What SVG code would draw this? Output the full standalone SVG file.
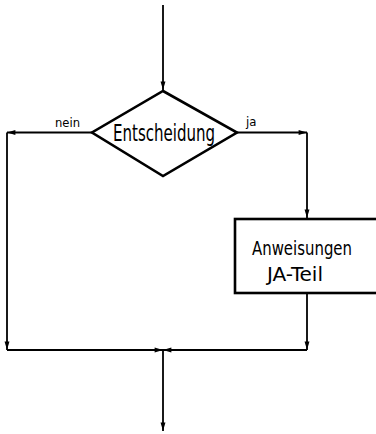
<svg xmlns="http://www.w3.org/2000/svg" width="376" height="434" viewBox="0 0 376 434">
<style>
.ln{fill:none;stroke:#000;stroke-width:1.8}
.shape{fill:#fff;stroke:#000;stroke-width:2.6}
.t{font-family:"DejaVu Sans Condensed","DejaVu Sans",sans-serif;fill:#000}
</style>
<defs>
<marker id="ah" viewBox="0 0 12 10" refX="12" refY="5" markerWidth="10" markerHeight="7" markerUnits="userSpaceOnUse" orient="auto">
<path d="M0,1.5 L12,5 L0,8.5 Z" fill="#000"/>
</marker>
</defs>
<g id="connectors">
<path class="ln" d="M163,5 V90" marker-end="url(#ah)"/>
<path class="ln" d="M92,132.5 H7" marker-end="url(#ah)"/>
<path class="ln" d="M237,132.5 H307" marker-end="url(#ah)"/>
<path class="ln" d="M307,132.5 V218" marker-end="url(#ah)"/>
<path class="ln" d="M7,132.5 V350" marker-end="url(#ah)"/>
<path class="ln" d="M307,293 V350" marker-end="url(#ah)"/>
<path class="ln" d="M7,350 H163" marker-end="url(#ah)"/>
<path class="ln" d="M307,350 H163" marker-end="url(#ah)"/>
<path class="ln" d="M163,350 V431" marker-end="url(#ah)"/>
<text class="t" x="55" y="127" font-size="13" textLength="25" lengthAdjust="spacingAndGlyphs">nein</text>
<text class="t" x="246" y="126" font-size="13">ja</text>
</g>
<g id="decision">
<polygon class="shape" points="163,91 237,132.5 163,176 92,132.5"/>
<text class="t" transform="translate(113,140.5) scale(0.667,1)" x="0" y="0" font-size="23" textLength="153" lengthAdjust="spacingAndGlyphs">Entscheidung</text>
</g>
<g id="anweisungen">
<rect class="shape" x="235" y="219" width="150" height="74"/>
<text class="t" x="252" y="254.5" font-size="19.5" textLength="100" lengthAdjust="spacingAndGlyphs">Anweisungen</text>
<text class="t" x="267" y="281" font-size="19.5" textLength="56" lengthAdjust="spacingAndGlyphs">JA-Teil</text>
</g>
</svg>
